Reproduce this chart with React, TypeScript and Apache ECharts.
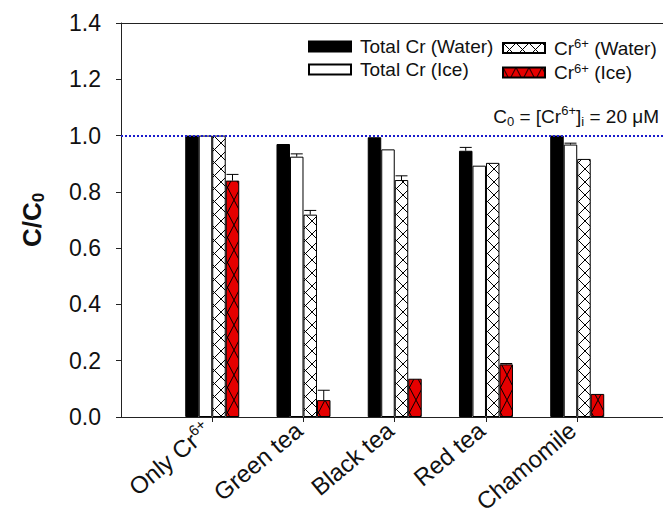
import React, { useEffect, useRef } from "react";
import * as echarts from "echarts";

const categories = ["Only Cr6+", "Green tea", "Black tea", "Red tea", "Chamomile"];
const categoryPositions = [1, 2, 3, 4, 5];
const seriesNames = ["Total Cr (Water)", "Total Cr (Ice)", "Cr6+ (Water)", "Cr6+ (Ice)"];
const totalCrWater = [1.0, 0.97, 0.994, 0.946, 1.0];
const totalCrIce = [1.0, 0.925, 0.951, 0.893, 0.968];
const cr6Water = [1.0, 0.719, 0.842, 0.903, 0.917];
const cr6Ice = [0.84, 0.06, 0.136, 0.187, 0.082];
const totalCrWaterErr = [0, 0, 0, 0.012, 0];
const totalCrIceErr = [0, 0.01, 0, 0, 0.005];
const cr6WaterErr = [0, 0.015, 0.015, 0, 0];
const cr6IceErr = [0.022, 0.035, 0, 0.003, 0];
const yTicks = [0, 0.2, 0.4, 0.6, 0.8, 1.0, 1.2, 1.4];
const c0Level = 1.0;

const FONT = "'Liberation Sans', Arial, Helvetica, sans-serif";
const BAR_W = 13.5;
const X_MAX = 5.94;

function makePattern(w: number, h: number, bg: string, line: string) {
  const c = document.createElement("canvas");
  c.width = w;
  c.height = h;
  const ctx = c.getContext("2d")!;
  ctx.fillStyle = bg;
  ctx.fillRect(0, 0, w, h);
  ctx.strokeStyle = line;
  ctx.lineWidth = 1;
  ctx.beginPath();
  ctx.moveTo(0, 0);
  ctx.lineTo(w, h);
  ctx.moveTo(w, 0);
  ctx.lineTo(0, h);
  ctx.stroke();
  return { image: c, repeat: "repeat", imageWidth: w, imageHeight: h } as any;
}

function richName(name: string) {
  if (name.startsWith("Cr6+")) return "{n|Cr}{p|6+}{n|" + name.slice(4) + "}";
  if (name === "Only Cr6+") return "{n|Only Cr}{p|6+}";
  return "{n|" + name + "}";
}

export default function App() {
  const ref = useRef<HTMLDivElement>(null);
  useEffect(() => {
    if (!ref.current) return;
    const chart = echarts.init(ref.current, null, { renderer: "svg" });
    const crossPat = makePattern(13, 13, "#ffffff", "#000000");
    const redPat = makePattern(13, 25, "#e60000", "#000000");
    const values = [totalCrWater, totalCrIce, cr6Water, cr6Ice];
    const errs = [totalCrWaterErr, totalCrIceErr, cr6WaterErr, cr6IceErr];
    const fills: any[] = ["#000000", "#ffffff", crossPat, redPat];

    const errData: number[][] = [];
    errs.forEach((arr, s) =>
      arr.forEach((e, i) => {
        if (e > 0) errData.push([categoryPositions[i], values[s][i], e, s]);
      })
    );

    const richLegend = {
      n: { fontSize: 19, fontFamily: FONT, color: "#111", lineHeight: 22 },
      p: { fontSize: 13, fontFamily: FONT, color: "#111", lineHeight: 12, verticalAlign: "top" },
    };

    const barSeries: any[] = seriesNames.map((name, s) => ({
      name,
      type: "bar",
      xAxisIndex: 0,
      yAxisIndex: 0,
      barWidth: BAR_W,
      barGap: "0%",
      data: categoryPositions.map((x, i) => [x, values[s][i]]),
      itemStyle: { color: fills[s], borderColor: "#000", borderWidth: 1 },
      z: 2,
    }));
    barSeries[0].markLine = {
      silent: true,
      symbol: "none",
      label: { show: false },
      lineStyle: { color: "#1a1acc", type: [2, 2], width: 2 },
      data: [{ yAxis: c0Level }],
      z: 6,
    };

    const legendBase = {
      orient: "vertical",
      top: 37,
      padding: 0,
      itemWidth: 42,
      itemHeight: 10,
      itemGap: 4,
      icon: "rect",
      formatter: (n: string) => richName(n),
      textStyle: { fontSize: 19, fontFamily: FONT, color: "#111", padding: [0, 0, 0, 4], rich: richLegend },
      selectedMode: false,
    };

    const option: any = {
      animation: false,
      backgroundColor: "#ffffff",
      grid: { left: 121, right: 0, top: 23, bottom: 97, containLabel: false, outerBoundsMode: "none" },
      legend: [
        { ...legendBase, data: [seriesNames[0], seriesNames[1]], left: 308 },
        { ...legendBase, data: [seriesNames[2], seriesNames[3]], left: 502 },
      ],
      xAxis: [
        {
          type: "value",
          min: 0,
          max: X_MAX,
          interval: 1,
          position: "bottom",
          axisLine: { show: true, onZero: false, lineStyle: { color: "#222", width: 1 } },
          axisTick: { show: true, length: 5, inside: false, customValues: categoryPositions, lineStyle: { color: "#222" } },
          axisLabel: {
            show: true,
            customValues: categoryPositions,
            rotate: 40,
            margin: 6,
            padding: [0, 6, 0, 0],
            fontSize: 24,
            fontFamily: FONT,
            color: "#111",
            formatter: (v: number) => {
              const idx = categoryPositions.indexOf(Math.round(v));
              if (idx < 0 || Math.abs(v - Math.round(v)) > 1e-6) return "";
              return richName(categories[idx]);
            },
            rich: {
              n: { fontSize: 24, fontFamily: FONT, color: "#111", lineHeight: 28 },
              p: { fontSize: 15, fontFamily: FONT, color: "#111", lineHeight: 14, verticalAlign: "top" },
            },
          },
          splitLine: { show: false },
        },
        {
          type: "value",
          min: 0,
          max: X_MAX,
          position: "top",
          axisLine: { show: true, onZero: false, lineStyle: { color: "#222", width: 1 } },
          axisTick: { show: false },
          axisLabel: { show: false },
          splitLine: { show: false },
        },
      ],
      yAxis: {
        type: "value",
        min: yTicks[0],
        max: yTicks[yTicks.length - 1],
        interval: 0.2,
        name: "{b|C/C}{s|0}",
        nameLocation: "middle",
        nameRotate: 90,
        nameGap: 74,
        nameTextStyle: {
          rich: {
            b: { fontSize: 26, fontWeight: "bold", fontFamily: FONT, color: "#111", lineHeight: 30 },
            s: { fontSize: 17, fontWeight: "bold", fontFamily: FONT, color: "#111", lineHeight: 16, verticalAlign: "bottom" },
          },
        },
        axisLine: { show: true, lineStyle: { color: "#222", width: 1 } },
        axisTick: { show: true, length: 5, inside: false, lineStyle: { color: "#222" } },
        axisLabel: {
          fontSize: 23,
          fontFamily: FONT,
          color: "#111",
          margin: 20,
          formatter: (v: number) => v.toFixed(1),
        },
        splitLine: { show: false },
      },
      series: [
        ...barSeries,
        {
          type: "custom",
          xAxisIndex: 0,
          yAxisIndex: 0,
          z: 5,
          encode: { x: 0, y: 1 },
          data: errData,
          renderItem: (params: any, api: any) => {
            const x = api.value(0);
            const v = api.value(1);
            const e = api.value(2);
            const s = api.value(3);
            const base = api.coord([x, v]);
            const top = api.coord([x, v + e]);
            const cx = base[0] + (s - 1.5) * BAR_W;
            return {
              type: "group",
              children: [
                { type: "line", shape: { x1: cx, y1: base[1], x2: cx, y2: top[1] }, style: { stroke: "#000", lineWidth: 1 } },
                { type: "line", shape: { x1: cx - 6, y1: top[1], x2: cx + 6, y2: top[1] }, style: { stroke: "#000", lineWidth: 1 } },
              ],
            };
          },
        },
      ],
      graphic: [
        {
          type: "text",
          z: 10,
          style: {
            x: 659,
            y: 128,
            align: "right",
            verticalAlign: "bottom",
            text: "{n|C}{s|0}{n| = [Cr}{p|6+}{n|]}{s|i}{n| = 20 μM}",
            rich: {
              n: { fontSize: 19, fontFamily: FONT, fill: "#111", lineHeight: 24, verticalAlign: "middle" },
              p: { fontSize: 13, fontFamily: FONT, fill: "#111", lineHeight: 12, verticalAlign: "top" },
              s: { fontSize: 13, fontFamily: FONT, fill: "#111", lineHeight: 12, verticalAlign: "bottom" },
            },
          },
        },
      ],
    };
    chart.setOption(option);
    return () => chart.dispose();
  }, []);
  return (
    <div
      ref={ref}
      style={{ position: "fixed", left: 0, top: 0, width: 663, height: 514, background: "#fff" }}
    />
  );
}
